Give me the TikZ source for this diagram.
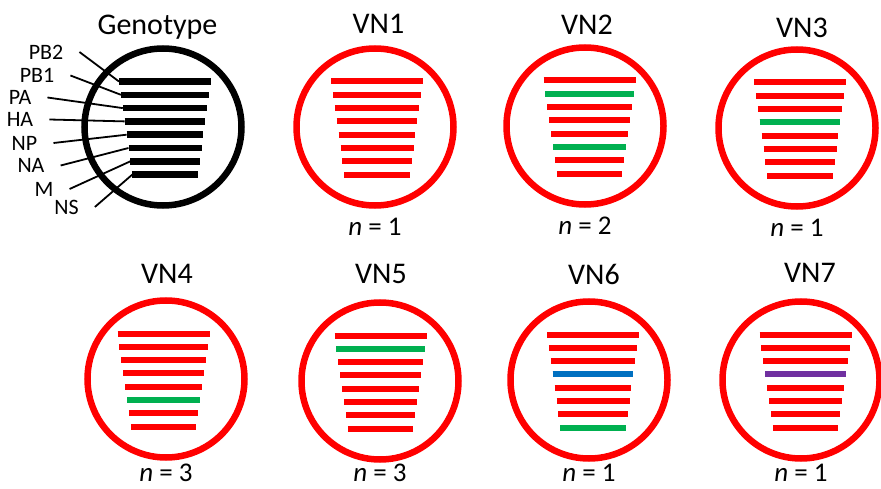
\documentclass[tikz,border=0pt]{standalone}
\usepackage{fontspec}
\setmainfont{Carlito}
\definecolor{vnred}{RGB}{255,0,0}
\definecolor{vngreen}{RGB}{0,176,80}
\definecolor{vnblue}{RGB}{0,112,192}
\definecolor{vnpurple}{RGB}{112,48,160}
\tikzset{
  ring/.style={circle, draw=#1, line width=6.5pt, minimum size=157pt, inner sep=0pt},
  seg/.style={line width=6pt, draw=#1},
  title/.style={font=\fontsize{30}{30}\selectfont, inner sep=0pt},
  count/.style={font=\fontsize{27}{27}\selectfont, inner sep=0pt},
  gene/.style={font=\fontsize{22}{22}\selectfont, inner sep=0pt},
  leader/.style={line width=1.8pt},
}
\begin{document}
\begin{tikzpicture}[x=1pt, y=-1pt]
  \useasboundingbox (0,0) rectangle (881,489);
  % genotype
  \node[ring=black] (geno) at (163,127) {};
  \node[title] (tgeno) at (157.5,27) {Genotype};
  \begin{scope}[shift={(165,127)}]
    \foreach \i in {0,...,7}{
      \draw[seg=black, line width=6.5pt] (-46+1.9*\i,-45.5+13.3*\i) -- (46-1.9*\i,-45.5+13.3*\i);
      \coordinate (g\i) at (-46+1.9*\i,-45.5+13.3*\i);}
  \end{scope}
  \foreach \lab/\lx/\ly/\i in {PB2/46/52/0, PB1/37/75.5/1, PA/20/97.5/2, HA/20/119.5/3,
                               NP/24.5/143/4, NA/31/165.5/5, M/44/189/6, NS/66.5/207/7}{
    \node[gene] (l\i) at (\lx,\ly) {\lab};
    \draw[leader] ([xshift=16pt]l\i.east) -- (g\i);}
  % variants
  \foreach \nm/\cx/\cy/\bx/\tx/\ty/\ny/\n in {1/375/127/377/378.5/24/227/1, 2/585/126/589.5/587/25/226/2,
      3/797/128/800/802/27.5/228/1, 4/166/379/163.5/167/274/473/3, 5/380/381/380.5/381/274/473/3,
      6/589/380/593/594/274/473/1, 7/801/380/805.5/810/273/473/1}{
    \node[ring=vnred] (vn\nm) at (\cx,\cy) {};
    \node[title] (t\nm) at (\tx,\ty) {VN\nm};
    \node[count] (n\nm) at (\cx,\ny) {\textit{n} = \n};
    \begin{scope}[shift={(\bx,\cy)}]
      \foreach \i in {0,...,7}{\draw[seg=vnred] (-46+1.9*\i,-45.5+13.3*\i) -- (46-1.9*\i,-45.5+13.3*\i);}
    \end{scope}}
  % reassorted segments
  \foreach \bx/\cy/\i/\c in {589.5/126/1/vngreen, 589.5/126/5/vngreen, 800/128/3/vngreen,
      163.5/379/5/vngreen, 380.5/381/1/vngreen, 593/380/3/vnblue, 593/380/7/vngreen,
      805.5/380/3/vnpurple}{
    \draw[seg=\c] (\bx-46+1.9*\i,\cy-45.5+13.3*\i) -- (\bx+46-1.9*\i,\cy-45.5+13.3*\i);}
\end{tikzpicture}
\end{document}
